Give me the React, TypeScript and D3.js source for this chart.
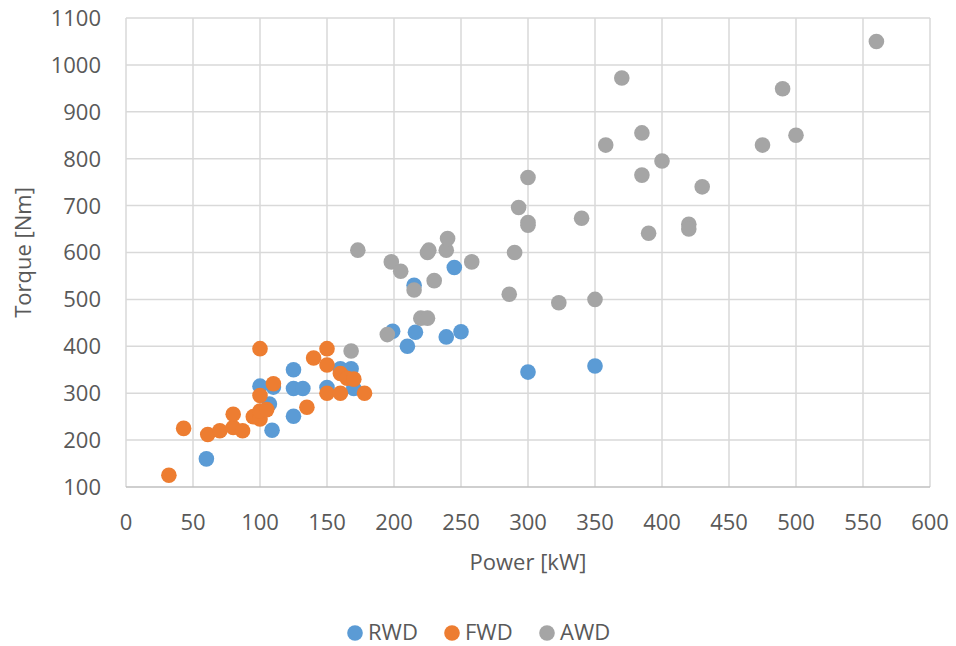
import React from "react";
import * as d3 from "d3";

// [power kW, torque Nm]
const rwd: [number, number][] = [
  [60, 160], [100, 315], [110, 313], [107, 277], [109, 221], [125, 350],
  [125, 310], [132, 310], [125, 251], [150, 312], [160, 352], [168, 352],
  [170, 310], [245, 568], [215, 530], [199, 432], [216, 430], [210, 400],
  [239, 420], [250, 431], [300, 345], [350, 358],
];

const fwd: [number, number][] = [
  [32, 125], [43, 225], [61, 212], [70, 220], [80, 227], [80, 255],
  [87, 220], [95, 250], [100, 245], [100, 262], [105, 265], [100, 295],
  [100, 395], [110, 320], [135, 270], [140, 375], [150, 395], [150, 360],
  [150, 300], [160, 300], [160, 342], [165, 332], [170, 330], [178, 300],
];

const awd: [number, number][] = [
  [168, 390], [173, 605], [198, 580], [205, 560], [215, 520], [225, 600],
  [226, 605], [239, 605], [240, 630], [258, 580], [230, 540], [220, 460],
  [225, 460], [195, 425], [286, 511], [290, 600], [370, 972], [490, 949],
  [385, 855], [358, 829], [475, 829], [500, 850], [400, 795], [385, 765],
  [300, 760], [430, 740], [293, 696], [300, 664], [300, 658], [340, 673],
  [420, 660], [420, 650], [390, 641], [323, 493], [350, 500], [560, 1050],
];

const xTicks = [0, 50, 100, 150, 200, 250, 300, 350, 400, 450, 500, 550, 600];
const yTicks = [100, 200, 300, 400, 500, 600, 700, 800, 900, 1000, 1100];

const series = [
  { name: "RWD", color: "#5B9BD5", data: rwd },
  { name: "FWD", color: "#ED7D31", data: fwd },
  { name: "AWD", color: "#A5A5A5", data: awd },
];

const font = "'Open Sans', sans-serif";
const textColor = "#595959";

export default function App() {
  const width = 956;
  const height = 646;
  const x = d3.scaleLinear().domain([0, 600]).range([126, 930]);
  const y = d3.scaleLinear().domain([100, 1100]).range([487, 18]);

  const legendX = [355, 452, 547];

  return (
    <svg
      width={width}
      height={height}
      style={{ position: "absolute", left: 0, top: 0, background: "#fff" }}
      fontFamily={font}
    >
      {/* grid */}
      <g>
        {yTicks.slice(1).map((t) => (
          <line key={"gy" + t} x1={x(0)} x2={x(600)} y1={y(t)} y2={y(t)} stroke="#D9D9D9" strokeWidth={1.5} />
        ))}
        {xTicks.map((t) => (
          <line key={"gx" + t} x1={x(t)} x2={x(t)} y1={y(100)} y2={y(1100)} stroke="#D9D9D9" strokeWidth={1.5} />
        ))}
        <line x1={x(0)} x2={x(600)} y1={y(100)} y2={y(100)} stroke="#BFBFBF" strokeWidth={1.5} />
      </g>

      {/* tick labels */}
      <g fill={textColor} fontSize={22}>
        {yTicks.map((t) => (
          <text key={"ly" + t} x={101} y={y(t)} dy="0.36em" textAnchor="end">
            {t}
          </text>
        ))}
        {xTicks.map((t) => (
          <text key={"lx" + t} x={x(t)} y={530} textAnchor="middle">
            {t}
          </text>
        ))}
        <text x={x(300)} y={570} textAnchor="middle">Power [kW]</text>
        <text
          transform={`translate(31, ${(y(100) + y(1100)) / 2}) rotate(-90)`}
          textAnchor="middle"
        >
          Torque [Nm]
        </text>
      </g>

      {/* points */}
      {series.map((s) => (
        <g key={s.name}>
          {s.data.map((d, i) => (
            <circle key={i} cx={x(d[0])} cy={y(d[1])} r={7.8} fill={s.color} />
          ))}
        </g>
      ))}

      {/* legend */}
      <g fontSize={22} fill={textColor}>
        {series.map((s, i) => (
          <g key={s.name}>
            <circle cx={legendX[i]} cy={633} r={7.8} fill={s.color} />
            <text x={legendX[i] + 13} y={640}>{s.name}</text>
          </g>
        ))}
      </g>
    </svg>
  );
}
